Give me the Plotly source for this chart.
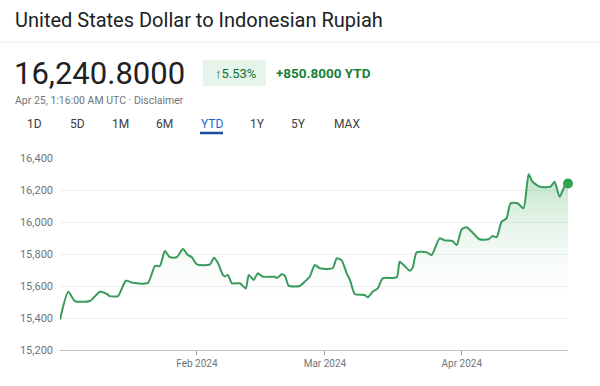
import plotly.graph_objects as go

# ---- data ----
dates = [
    "2024-01-01 00:00", "2024-01-02 21:00", "2024-01-04 09:00", "2024-01-07 19:00",
    "2024-01-10 01:00", "2024-01-11 15:00", "2024-01-12 07:00", "2024-01-14 03:00",
    "2024-01-15 22:00", "2024-01-17 12:00", "2024-01-20 22:00", "2024-01-22 12:00",
    "2024-01-23 15:00", "2024-01-24 18:00", "2024-01-25 21:00", "2024-01-27 11:00",
    "2024-01-28 20:00", "2024-01-29 23:00", "2024-01-30 21:00", "2024-02-01 00:00",
    "2024-02-03 23:00", "2024-02-04 20:00", "2024-02-05 18:00", "2024-02-06 21:00",
    "2024-02-07 08:00", "2024-02-08 00:00", "2024-02-08 22:00", "2024-02-10 17:00",
    "2024-02-12 02:00", "2024-02-12 18:00", "2024-02-13 21:00", "2024-02-14 19:00",
    "2024-02-15 22:00", "2024-02-18 15:00", "2024-02-19 02:00", "2024-02-20 06:00",
    "2024-02-20 22:00", "2024-02-21 19:00", "2024-02-24 07:00", "2024-02-25 10:00",
    "2024-02-26 13:00", "2024-02-27 17:00", "2024-02-28 20:00", "2024-03-02 18:00",
    "2024-03-03 16:00", "2024-03-04 19:00", "2024-03-05 22:00", "2024-03-06 15:00",
    "2024-03-07 18:00", "2024-03-10 00:00", "2024-03-10 16:00", "2024-03-11 19:00",
    "2024-03-12 23:00", "2024-03-14 02:00", "2024-03-17 06:00", "2024-03-17 22:00",
    "2024-03-19 01:00", "2024-03-20 05:00", "2024-03-20 21:00", "2024-03-21 18:00",
    "2024-03-24 01:00", "2024-03-25 04:00", "2024-03-26 23:00", "2024-03-28 02:00",
    "2024-03-29 22:00", "2024-03-30 20:00", "2024-03-31 23:00", "2024-04-02 02:00",
    "2024-04-03 05:00", "2024-04-05 00:00", "2024-04-07 01:00", "2024-04-07 23:00",
    "2024-04-08 21:00", "2024-04-10 00:00", "2024-04-11 03:00", "2024-04-12 01:00",
    "2024-04-13 15:00", "2024-04-14 23:00", "2024-04-16 03:00", "2024-04-17 00:00",
    "2024-04-18 14:00", "2024-04-21 02:00", "2024-04-22 00:00", "2024-04-23 03:00",
    "2024-04-24 06:00", "2024-04-25 01:00",
]
rates = [
    15390, 15564, 15506, 15506,
    15564, 15550, 15537, 15537,
    15633, 15620, 15620, 15725,
    15725, 15819, 15780, 15780,
    15831, 15794, 15780, 15735,
    15735, 15777, 15745, 15669,
    15660, 15669, 15617, 15617,
    15585, 15669, 15638, 15679,
    15658, 15658, 15650, 15673,
    15665, 15602, 15600, 15627,
    15658, 15731, 15711, 15711,
    15773, 15760, 15679, 15642,
    15550, 15544, 15529, 15564,
    15585, 15648, 15654, 15752,
    15725, 15696, 15715, 15810,
    15810, 15794, 15898, 15885,
    15881, 15856, 15954, 15967,
    15940, 15892, 15892, 15912,
    15905, 16002, 16023, 16117,
    16117, 16086, 16298, 16252,
    16221, 16221, 16252, 16158,
    16221, 16240.8,
]
month_ticks = ["2024-02-01", "2024-03-01", "2024-04-01"]
month_labels = ["Feb 2024", "Mar 2024", "Apr 2024"]
tabs = ["1D", "5D", "1M", "6M", "YTD", "1Y", "5Y", "MAX"]

title_text = "United States Dollar to Indonesian Rupiah"
price_text = "16,240.8000"
change_pct = "↑5.53%"
change_abs = "<b>+850.8000 YTD</b>"
stamp_text = "Apr 25, 1:16:00 AM UTC · Disclaimer"

# ---- layout geometry (pixels) ----
W, H = 600, 386
L, R, T, B = 60, 32, 158, 36
PW, PH = W - L - R, H - T - B

def px(x):
    return (x - L) / PW

def py(y):
    return (H - B - y) / PH

FONT = "Roboto"
GREEN = "#3a9a5c"

fig = go.Figure()
fig.add_trace(go.Scatter(
    x=dates, y=rates, mode="lines",
    line=dict(color=GREEN, width=2, shape="spline", smoothing=0.6),
    fill="tozeroy",
    fillgradient=dict(type="vertical",
                      colorscale=[[0, "rgba(255,255,255,0)"], [1, "rgba(52,168,83,0.32)"]],
                      start=15450, stop=16300),
    hoverinfo="skip", showlegend=False,
))
fig.add_trace(go.Scatter(
    x=[dates[-1]], y=[rates[-1]], mode="markers",
    marker=dict(color="#2ea44f", size=10),
    cliponaxis=False, hoverinfo="skip", showlegend=False,
))

def note(text, x, y, size, color, anchor="left"):
    return dict(text=text, x=px(x), y=py(y), xref="paper", yref="paper",
                xanchor=anchor, yanchor="middle", showarrow=False,
                font=dict(family=FONT, size=size, color=color))

annotations = [
    note(title_text, 13, 20, 20, "#202124"),
    note(price_text, 12, 73, 31, "#202124"),
    note(change_pct, 235, 73, 13, "#137333", "center"),
    note(change_abs, 274, 73, 13.5, "#188038"),
    note(stamp_text, 13, 100, 10.5, "#70757a"),
]
tab_x = [34, 77, 120, 164, 212, 257, 298, 347]
for name, tx in zip(tabs, tab_x):
    annotations.append(note(name, tx, 124, 12,
                            "#1967d2" if name == "YTD" else "#3c4043", "center"))

shapes = [
    dict(type="line", xref="paper", yref="paper", x0=px(0), x1=px(600), y0=py(42), y1=py(42),
         line=dict(color="#e8eaed", width=1)),
    dict(type="rect", xref="paper", yref="paper", x0=px(203), x1=px(266), y0=py(86), y1=py(60),
         fillcolor="#e6f4ea", line=dict(width=0), layer="below"),
    dict(type="line", xref="paper", yref="paper", x0=px(200), x1=px(223), y0=py(133), y1=py(133),
         line=dict(color="#1a4f9c", width=2.5)),
]

fig.update_layout(
    width=W, height=H,
    margin=dict(l=L, r=R, t=T, b=B),
    paper_bgcolor="white", plot_bgcolor="white",
    annotations=annotations, shapes=shapes,
    font=dict(family=FONT),
    xaxis=dict(
        range=["2024-01-01", "2024-04-25 01:00"],
        tickvals=month_ticks, ticktext=month_labels,
        showgrid=False, zeroline=False,
        showline=True, linecolor="#bdc1c6", linewidth=1,
        ticks="outside", ticklen=4, tickcolor="#9aa0a6",
        tickfont=dict(family=FONT, size=10, color="#70757a"),
    ),
    yaxis=dict(
        range=[15200, 16400], dtick=200, tickformat=",",
        showgrid=True, gridcolor="#eceef0", gridwidth=1, zeroline=False,
        showline=False, ticks="", ticklabelstandoff=6,
        tickfont=dict(family=FONT, size=11, color="#70757a"),
    ),
)

fig.write_html("out.html")
